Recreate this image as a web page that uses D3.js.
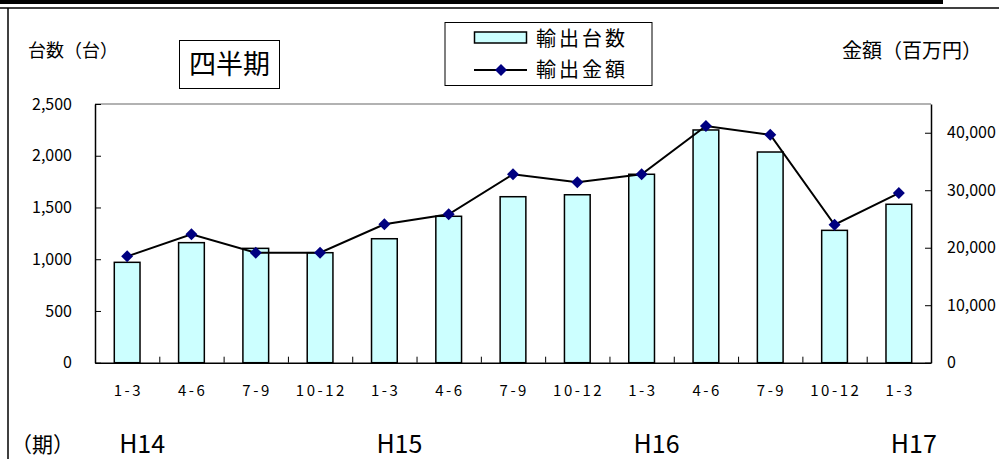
<!DOCTYPE html>
<html>
<head>
<meta charset="utf-8">
<script src="https://cdn.jsdelivr.net/npm/d3@7"></script>
<style>
  html, body { margin: 0; padding: 0; background: #fff; }
  svg { display: block; }
  text { font-family: "Noto Sans CJK JP", sans-serif; fill: #000; }
</style>
</head>
<body>
<div id="chart"></div>
<script>
// 四半期ごとの輸出台数・輸出金額
const quarters = ['1-3', '4-6', '7-9', '10-12', '1-3', '4-6', '7-9', '10-12', '1-3', '4-6', '7-9', '10-12', '1-3'];
const units = [970, 1160, 1105, 1063, 1198, 1415, 1604, 1623, 1821, 2249, 2036, 1279, 1531];
const amounts = [18500, 22330, 19130, 19130, 24070, 25810, 32770, 31370, 32770, 41170, 39650, 24000, 29510];
const years = [
  { label: 'H14', index: 0 },
  { label: 'H15', index: 4 },
  { label: 'H16', index: 8 },
  { label: 'H17', index: 12 }
];
const unitTicks = [0, 500, 1000, 1500, 2000, 2500];
const amountTicks = [0, 10000, 20000, 30000, 40000];

const width = 999;
const height = 459;
const plot = { left: 95, right: 931, top: 104, bottom: 362.7 };

const svg = d3
  .select('#chart')
  .append('svg')
  .attr('width', width)
  .attr('height', height);

// frame: thick bar at top, thin rule, left border
svg.append('rect').attr('x', 0).attr('y', 0).attr('width', 943).attr('height', 4).attr('fill', '#000');
svg.append('line').attr('x1', 0).attr('x2', width).attr('y1', 8).attr('y2', 8).attr('stroke', '#000').attr('stroke-width', 1.5);
svg.append('line').attr('x1', 8).attr('x2', 8).attr('y1', 8).attr('y2', height).attr('stroke', '#000').attr('stroke-width', 1.5);

const x = d3
  .scaleBand()
  .domain(d3.range(quarters.length))
  .range([plot.left, plot.right])
  .paddingInner(0.6)
  .paddingOuter(0.3);

const xEdge = d3
  .scaleLinear()
  .domain([0, quarters.length])
  .range([plot.left, plot.right]);

const yLeft = d3.scaleLinear().domain([0, 2500]).range([plot.bottom, plot.top]);
const yRight = d3.scaleLinear().domain([0, 45000]).range([plot.bottom, plot.top]);

const centre = i => x(i) + x.bandwidth() / 2;

// top border of plot area
svg
  .append('line')
  .attr('x1', plot.left)
  .attr('x2', plot.right)
  .attr('y1', plot.top)
  .attr('y2', plot.top)
  .attr('stroke', '#999')
  .attr('stroke-width', 1.5);

// bars
svg
  .append('g')
  .selectAll('rect')
  .data(units)
  .join('rect')
  .attr('x', (d, i) => x(i))
  .attr('y', d => yLeft(d))
  .attr('width', x.bandwidth())
  .attr('height', d => yLeft(0) - yLeft(d))
  .attr('fill', '#ccffff')
  .attr('stroke', '#000')
  .attr('stroke-width', 1.5);

// axes
const styleAxis = g => {
  g.selectAll('.domain').attr('stroke', '#000').attr('stroke-width', 1.5);
  g.selectAll('.tick line').attr('stroke', '#000').attr('stroke-width', 1);
  g.selectAll('text').attr('font-size', 16).attr('font-family', '"Noto Sans CJK JP", sans-serif');
};

svg
  .append('g')
  .attr('transform', `translate(${plot.left},0)`)
  .call(
    d3.axisLeft(yLeft).tickValues(unitTicks).tickFormat(d3.format(',')).tickSize(-6).tickSizeOuter(0).tickPadding(23)
  )
  .call(styleAxis);

svg
  .append('g')
  .attr('transform', `translate(${plot.right},0)`)
  .call(
    d3.axisRight(yRight).tickValues(amountTicks).tickFormat(d3.format(',')).tickSize(-6).tickSizeOuter(0).tickPadding(16)
  )
  .call(styleAxis);

svg
  .append('g')
  .attr('transform', `translate(0,${plot.bottom})`)
  .call(d3.axisBottom(xEdge).tickValues(d3.range(1, quarters.length)).tickFormat('').tickSize(-6).tickSizeOuter(0))
  .call(styleAxis);

svg
  .append('g')
  .attr('transform', `translate(0,${plot.bottom})`)
  .call(d3.axisBottom(x).tickFormat(i => quarters[i]).tickSize(0).tickPadding(23))
  .call(g => g.select('.domain').remove())
  .call(g =>
    g
      .selectAll('text')
      .attr('font-size', 15)
      .attr('letter-spacing', 2.5)
      .attr('dx', 1.25)
      .attr('font-family', '"Noto Sans CJK JP", sans-serif')
  );

// amount line
const line = d3
  .line()
  .x((d, i) => centre(i))
  .y(d => yRight(d));

svg
  .append('path')
  .attr('d', line(amounts))
  .attr('fill', 'none')
  .attr('stroke', '#000')
  .attr('stroke-width', 2);

const diamond = d3.symbol().type(d3.symbolSquare).size(72);

svg
  .append('g')
  .selectAll('path')
  .data(amounts)
  .join('path')
  .attr('d', diamond)
  .attr('transform', (d, i) => `translate(${centre(i)},${yRight(d)}) rotate(45)`)
  .attr('fill', '#000080');

// axis titles
svg.append('text').attr('x', 28).attr('y', 57).attr('font-size', 18).text('台数（台）');
svg.append('text').attr('x', 842).attr('y', 58).attr('font-size', 20).text('金額（百万円）');

// 四半期 box
svg
  .append('rect')
  .attr('x', 179.5)
  .attr('y', 40.5)
  .attr('width', 100)
  .attr('height', 48)
  .attr('fill', '#fff')
  .attr('stroke', '#000');
svg
  .append('text')
  .attr('x', 229.5)
  .attr('y', 74)
  .attr('text-anchor', 'middle')
  .attr('font-size', 27)
  .text('四半期');

// legend
const legend = svg.append('g').attr('transform', 'translate(445,22.5)');
legend.append('rect').attr('width', 207).attr('height', 63).attr('fill', '#fff').attr('stroke', '#000');
legend
  .append('rect')
  .attr('x', 29.5)
  .attr('y', 9.5)
  .attr('width', 52)
  .attr('height', 11)
  .attr('fill', '#ccffff')
  .attr('stroke', '#000')
  .attr('stroke-width', 1.5);
legend
  .append('text')
  .attr('x', 91)
  .attr('y', 23.5)
  .attr('font-size', 20)
  .attr('letter-spacing', 3)
  .text('輸出台数');
legend
  .append('line')
  .attr('x1', 29)
  .attr('x2', 82)
  .attr('y1', 47.5)
  .attr('y2', 47.5)
  .attr('stroke', '#000')
  .attr('stroke-width', 2);
legend
  .append('path')
  .attr('d', diamond)
  .attr('transform', 'translate(56,47.5) rotate(45)')
  .attr('fill', '#000080');
legend
  .append('text')
  .attr('x', 91)
  .attr('y', 54.5)
  .attr('font-size', 20)
  .attr('letter-spacing', 3)
  .text('輸出金額');

// period labels
svg.append('text').attr('x', 11).attr('y', 452).attr('font-size', 21).text('（期）');

svg
  .append('g')
  .selectAll('text')
  .data(years)
  .join('text')
  .attr('x', d => centre(d.index) - 8)
  .attr('y', 453)
  .attr('font-size', 25)
  .attr('font-family', '"Liberation Sans", Arial, sans-serif')
  .text(d => d.label);
</script>
</body>
</html>
